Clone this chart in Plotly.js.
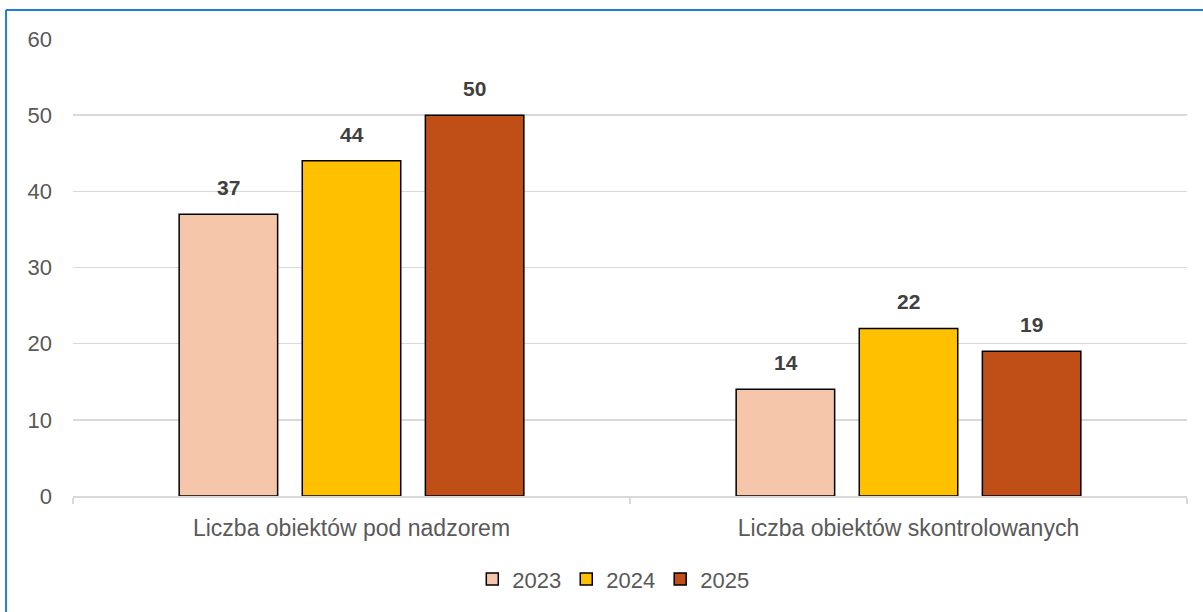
<!DOCTYPE html>
<html>
<head>
<meta charset="utf-8">
<script src="https://cdn.plot.ly/plotly-3.0.1.min.js"></script>
<style>
html,body{margin:0;padding:0;background:#fff;}
#chart{width:1203px;height:612px;}
</style>
</head>
<body>
<div id="chart"></div>
<script>
const categories = ["Liczba obiektów pod nadzorem", "Liczba obiektów skontrolowanych"];
const years = ["2023", "2024", "2025"];
const values2023 = [37, 14];
const values2024 = [44, 22];
const values2025 = [50, 19];
const colors = ["#F5C6AA", "#FFC000", "#BF4F16"];
const yTicks = [0, 10, 20, 30, 40, 50, 60];

const series = [values2023, values2024, values2025];
const FONT = "Liberation Sans, Arial, sans-serif";

const traces = series.map((vals, i) => ({
  type: "bar",
  name: years[i],
  x: categories,
  y: vals,
  marker: {color: colors[i], line: {color: "#000000", width: 1.5}},
  hoverinfo: "x+y+name"
}));

const slot = 123; // pixel offset between bars in a group
const annotations = [];
series.forEach((vals, i) => {
  vals.forEach((v, j) => {
    annotations.push({
      x: categories[j], y: v, xref: "x", yref: "y",
      text: "<b>" + v + "</b>", showarrow: false,
      yanchor: "bottom", yshift: 13, xshift: (i - 1) * slot,
      font: {family: FONT, size: 21, color: "#404040"}
    });
  });
});

const layout = {
  width: 1203, height: 612,
  margin: {l: 73, r: 16, t: 39, b: 116},
  paper_bgcolor: "#ffffff", plot_bgcolor: "#ffffff",
  font: {family: FONT, color: "#595959", size: 22},
  barmode: "group",
  bargap: 0.337,
  bargroupgap: 0.2,
  showlegend: true,
  legend: {
    orientation: "h", x: 0.485, xanchor: "center", y: -0.182, yanchor: "middle",
    font: {family: FONT, size: 22, color: "#595959"},
    itemwidth: 30, tracegroupgap: 0
  },
  xaxis: {
    type: "category",
    showline: true, linecolor: "#d9d9d9", linewidth: 1.5,
    ticks: "outside", tickson: "boundaries", ticklen: 6, tickcolor: "#d9d9d9", tickwidth: 1.5,
    tickfont: {family: FONT, size: 23, color: "#595959"},
    ticklabelstandoff: 11,
    showgrid: false, zeroline: false, fixedrange: true
  },
  yaxis: {
    range: [0, 60],
    tickvals: yTicks,
    ticktext: yTicks.map(String),
    showgrid: true, gridcolor: "#d9d9d9", gridwidth: 1.5,
    zeroline: false, showline: false, ticks: "",
    tickfont: {family: FONT, size: 22, color: "#595959"},
    ticklabelstandoff: 20, fixedrange: true
  },
  annotations: annotations,
  shapes: [
    {type: "line", xref: "paper", yref: "paper", x0: -0.0601, x1: 1.05, y0: 1.0635, y1: 1.0635,
     line: {color: "#1C7ED6", width: 2}},
    {type: "line", xref: "paper", yref: "paper", x0: -0.0601, x1: -0.0601, y0: 1.0635, y1: -0.3,
     line: {color: "#1C7ED6", width: 2}}
  ]
};

Plotly.newPlot("chart", traces, layout, {displayModeBar: false, staticPlot: true});
</script>
</body>
</html>
